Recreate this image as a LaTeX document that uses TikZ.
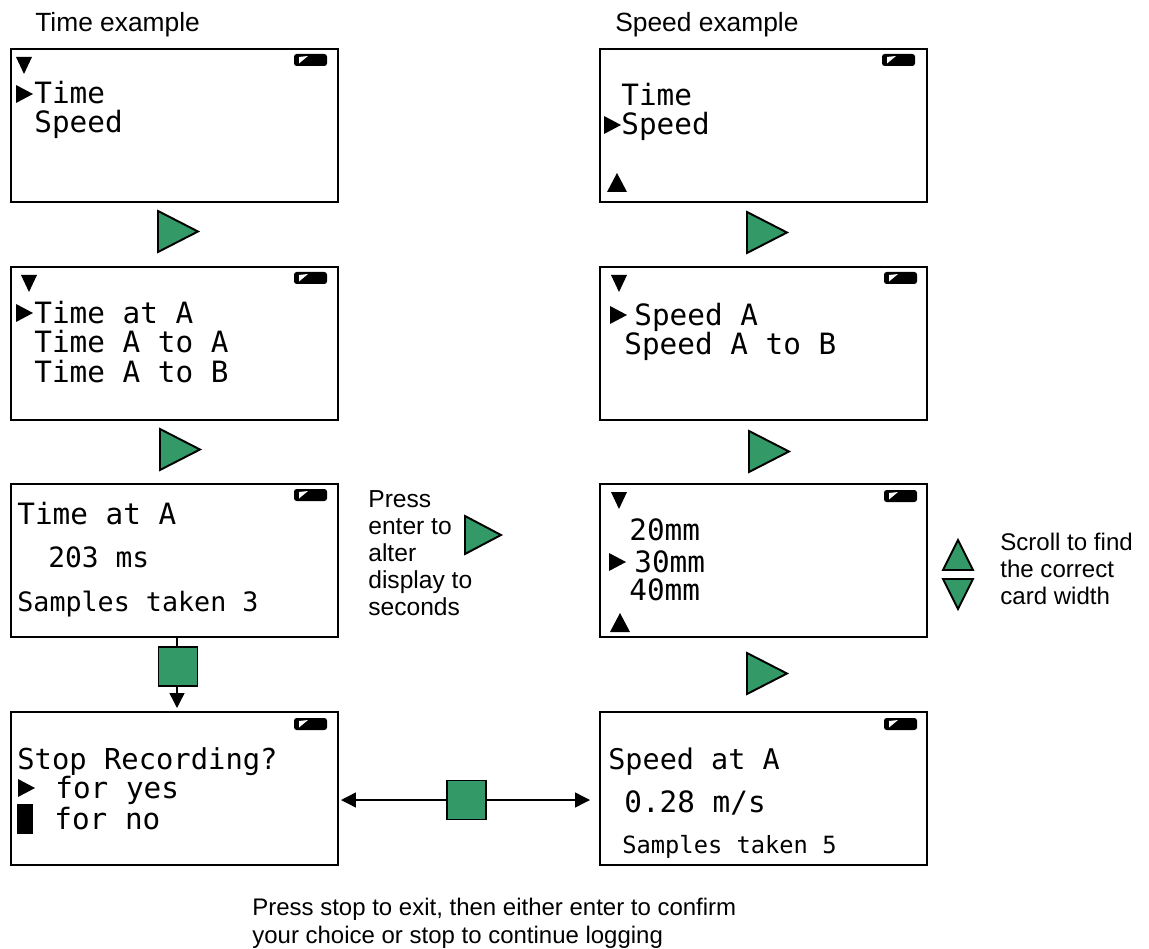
\documentclass[tikz,border=0pt]{standalone}
\usepackage{fontspec}
\setmainfont{Liberation Sans}
\newfontfamily\lcdfont{DejaVu Sans Mono}
\usepackage{tikz}
\usetikzlibrary{arrows.meta}

\definecolor{keygreen}{RGB}{51,153,102}

\tikzset{
    screen/.style={draw, line width=1.2pt, anchor=north west, inner sep=0pt,
        minimum width=327*0.02cm, minimum height=153*0.02cm},
    lcd/.style={anchor=base west, inner sep=0pt, font=\lcdfont\fontsize{16.7}{20}\selectfont},
    lcdsmall/.style={lcd, font=\lcdfont\fontsize{13.5}{17}\selectfont},
    note/.style={anchor=base west, inner sep=0pt, align=left, font=\fontsize{14}{15.4}\selectfont},
    stopkey/.style={draw, line width=1.05pt, fill=keygreen, inner sep=0pt,
        minimum width=39*0.02cm, minimum height=39*0.02cm},
    keytri/.style={draw, line width=1.1pt, fill=keygreen, line join=miter},
    conn/.style={line width=.8pt, -{Triangle[length=8.5pt,width=8.5pt]}}
}

% small marks on the display
\newcommand{\lcddown}[2]{\fill (#1,#2) -- ++(16,0) -- ++(-8,17) -- cycle;}
\newcommand{\lcdup}[2]{\fill (#1,#2) -- ++(20,0) -- ++(-10,-19) -- cycle;}
\newcommand{\lcdright}[2]{\fill (#1,#2) -- ++(0,18) -- ++(17,-9) -- cycle;}
\newcommand{\battery}[2]{
    \fill[rounded corners=1.5pt] (#1,#2) rectangle ++(33,12);
    \fill[white] (#1+5,#2+9.5) -- ++(0,-6.5) -- ++(9,-1) -- cycle;
}
\newcommand{\enterkey}[2]{\draw[keytri] (#1,#2) -- ++(0,41) -- ++(40,-20.5) -- cycle;}

\begin{document}
\begin{tikzpicture}[x=0.02cm, y=-0.02cm]

    \useasboundingbox (0,0) rectangle (1149,949);

    \node[note, font=\fontsize{15}{18}\selectfont] (timetitle) at (35,32) {Time example};
    \node[note, font=\fontsize{15}{18}\selectfont] (speedtitle) at (615,32) {Speed example};

    \node[screen] (timeA) at (10,48) {};
    \node[screen] (timeB) at (10,266) {};
    \node[screen] (timeC) at (10,483) {};
    \node[screen] (timeD) at (10,711) {};
    \node[screen] (speedA) at (599,48) {};
    \node[screen] (speedB) at (599,266) {};
    \node[screen] (speedC) at (599,483) {};
    \node[screen] (speedD) at (599,711) {};

    \foreach \x/\y in {294/54,294/272,294/489,294/718,882/54,884/272,884/490,884/718} {
        \battery{\x}{\y}
    }

    % time column
    \lcddown{16}{57}
    \lcdright{16}{85}
    \node[lcd] (timeAa) at (34,104) {Time};
    \node[lcd] (timeAb) at (34,133) {Speed};

    \lcddown{21}{275}
    \lcdright{16}{304}
    \node[lcd] (timeBa) at (34,324) {Time at A};
    \node[lcd] (timeBb) at (34,353) {Time A to A};
    \node[lcd] (timeBc) at (34,382) {Time A to B};

    \node[lcd] (timeCa) at (17,524) {Time at A};
    \node[lcd, font=\lcdfont\fontsize{15.9}{19}\selectfont] (timeCb) at (48,567) {203 ms};
    \node[lcd, font=\lcdfont\fontsize{15.2}{19}\selectfont] (timeCc) at (17,611) {Samples taken 3};

    \node[lcd, font=\lcdfont\fontsize{16.4}{20}\selectfont] (timeDa) at (17,769) {Stop Recording?};
    \lcdright{18}{779}
    \node[lcd] (timeDb) at (55,798) {for yes};
    \fill (17,804) rectangle (33,834);
    \node[lcd] (timeDc) at (54,829) {for no};

    % speed column
    \lcdup{607}{192}
    \node[lcd] (speedAa) at (621,106) {Time};
    \node[lcd] (speedAb) at (621,135) {Speed};
    \lcdright{604}{116}

    \lcddown{611}{275}
    \lcdright{610}{306}
    \node[lcd] (speedBa) at (634,326) {Speed A};
    \node[lcd] (speedBb) at (624,355) {Speed A to B};

    \lcddown{611}{492}
    \lcdright{609}{553}
    \lcdup{610}{632}
    \node[lcd] (speedCa) at (629,540) {20mm};
    \node[lcd] (speedCb) at (634,572) {30mm};
    \node[lcd] (speedCc) at (629,600) {40mm};

    \node[lcd, font=\lcdfont\fontsize{16.2}{20}\selectfont] (speedDa) at (608,769) {Speed at A};
    \node[lcd] (speedDb) at (624,812) {0.28 m/s};
    \node[lcdsmall] (speedDc) at (622,853) {Samples taken 5};

    % keys between the screens
    \enterkey{158}{211}
    \enterkey{160}{429}
    \enterkey{747}{212}
    \enterkey{749}{431}
    \enterkey{747}{653}
    \draw[keytri] (465,516) -- ++(0,38) -- ++(36,-19) -- cycle;

    \draw[keytri] (958,540) -- (973,570) -- (943,570) -- cycle;
    \draw[keytri] (958,609) -- (973,579) -- (943,579) -- cycle;

    \node[stopkey] (stopA) at (178,666.5) {};
    \coordinate (stopAin) at (177,636);
    \coordinate (stopAout) at (177,708);
    \coordinate (stopBleft) at (341,800);
    \coordinate (stopBright) at (590,800);
    \coordinate (stopBmid) at (466.5,800);

    \draw[line width=.8pt] (stopAin) -- (stopAin |- stopA.north);
    \draw[conn] (stopAout |- stopA.south) -- (stopAout);
    \draw[conn] (stopBmid) -- (stopBleft);
    \draw[conn] (stopBmid) -- (stopBright);
    \node[stopkey] (stopB) at (stopBmid) {};

    % notes
    \node[note, anchor=north west] (pressnote) at (368,490)
        {Press\\enter to\\alter\\display to\\seconds};
    \node[note, anchor=north west, font=\fontsize{13.7}{15.4}\selectfont] (scrollnote) at (1000,533)
        {Scroll to find\\the correct\\card width};
    \node[note, anchor=north west, font=\fontsize{13.65}{15.8}\selectfont] (stopnote) at (252,898)
        {Press stop to exit, then either enter to confirm\\your choice or stop to continue logging};

\end{tikzpicture}
\end{document}
